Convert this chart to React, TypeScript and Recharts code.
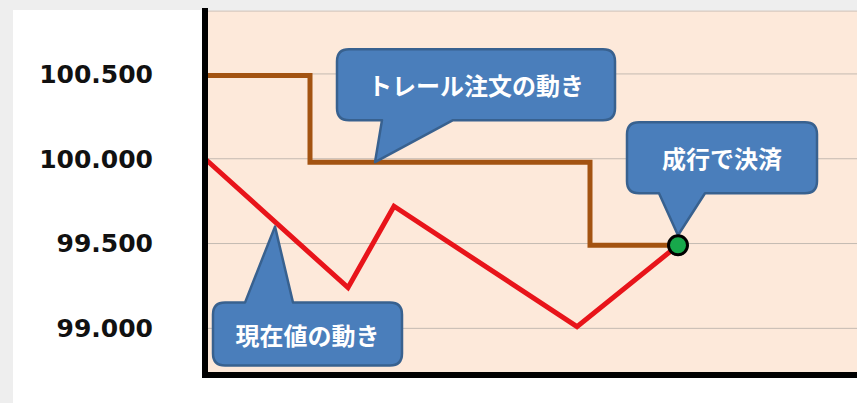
import React from 'react';
import { LineChart, Line, XAxis, YAxis, CartesianGrid, ReferenceDot } from 'recharts';

// Y axis ticks
const yTicks = [99.0, 99.5, 100.0, 100.5];

// Current price movement (red)
const priceTimes = [0, 14.3, 18.9, 37.2, 47.3];
const priceValues = [100.0, 99.24, 99.72, 99.01, 99.49];

// Trailing stop order movement (brown, step)
const trailTimes = [0, 10.5, 38.5, 47.3];
const trailValues = [100.49, 99.98, 99.49, 99.49];

// Settlement point
const settleTime = 47.3;
const settleValue = 99.49;

// Callout labels
const calloutTrail = 'トレール注文の動き';
const calloutSettle = '成行で決済';
const calloutPrice = '現在値の動き';

const priceData = priceTimes.map((x, i) => ({ x, y: priceValues[i] }));
const trailData = trailTimes.map((x, i) => ({ x, y: trailValues[i] }));

type Box = { l: number; r: number; t: number; b: number; b0: number; b1: number; tipDy: number; side: 'top' | 'bottom' };

function calloutPath(cx: number, cy: number, box: Box) {
  const x0 = cx + box.l, x1 = cx + box.r, y0 = cy + box.t, y1 = cy + box.b;
  const rr = 12;
  const bx0 = cx + box.b0, bx1 = cx + box.b1;
  const tx = cx, ty = cy + box.tipDy;
  if (box.side === 'bottom') {
    return `M${x0 + rr},${y0} H${x1 - rr} Q${x1},${y0} ${x1},${y0 + rr} V${y1 - rr} Q${x1},${y1} ${x1 - rr},${y1} H${bx1} L${tx},${ty} L${bx0},${y1} H${x0 + rr} Q${x0},${y1} ${x0},${y1 - rr} V${y0 + rr} Q${x0},${y0} ${x0 + rr},${y0} Z`;
  }
  return `M${x0 + rr},${y0} H${bx0} L${tx},${ty} L${bx1},${y0} H${x1 - rr} Q${x1},${y0} ${x1},${y0 + rr} V${y1 - rr} Q${x1},${y1} ${x1 - rr},${y1} H${x0 + rr} Q${x0},${y1} ${x0},${y1 - rr} V${y0 + rr} Q${x0},${y0} ${x0 + rr},${y0} Z`;
}

function makeCallout(text: string, box: Box) {
  return (props: any) => {
    const { cx, cy } = props;
    if (cx == null || cy == null) return <g />;
    const mx = cx + (box.l + box.r) / 2;
    const my = cy + (box.t + box.b) / 2;
    return (
      <g>
        <path d={calloutPath(cx, cy, box)} fill="#4A7EBB" stroke="#38618F" strokeWidth={2.5} strokeLinejoin="round" />
        <text
          x={mx}
          y={my}
          textAnchor="middle"
          dominantBaseline="central"
          fill="#FFFFFF"
          fontSize={24}
          fontWeight="bold"
          fontFamily="'Noto Sans CJK JP', sans-serif"
        >
          {text}
        </text>
      </g>
    );
  };
}

const trailBox: Box = { l: -38, r: 240, t: -113, b: -42, b0: 7, b1: 78, tipDy: 0, side: 'bottom' };
const settleBox: Box = { l: -51, r: 139, t: -123, b: -52, b0: -19, b1: 27, tipDy: -10, side: 'bottom' };
const priceBox: Box = { l: -62, r: 127, t: 76, b: 139, b0: -30, b1: 18, tipDy: 0, side: 'top' };

export default function App() {
  return (
    <div style={{ position: 'absolute', left: 0, top: 0, width: 857, height: 403, background: '#EEEEEE', overflow: 'hidden' }}>
      <div style={{ position: 'absolute', left: 13, top: 10, width: 844, height: 393, background: '#FFFFFF' }} />
      <div style={{ position: 'absolute', left: 0, top: 0 }}>
        <LineChart width={857} height={403} margin={{ top: 11, right: 0, bottom: 0, left: 0 }}>
          <CartesianGrid vertical={false} stroke="#C4BAB2" strokeWidth={1} fill="#FDE9DA" />
          <XAxis
            type="number"
            dataKey="x"
            domain={[0, 65.2]}
            allowDataOverflow
            height={28}
            tick={false}
            tickLine={false}
            axisLine={{ stroke: '#000000', strokeWidth: 6, strokeLinecap: 'square' }}
          />
          <YAxis
            type="number"
            dataKey="y"
            domain={[98.725, 100.871]}
            allowDataOverflow
            ticks={yTicks}
            width={205}
            tickLine={false}
            tickMargin={46}
            tickFormatter={(v: number) => v.toFixed(3)}
            tick={{ fill: '#111111', fontSize: 25, fontWeight: 'bold', fontFamily: "'DejaVu Sans', sans-serif" }}
            axisLine={{ stroke: '#000000', strokeWidth: 6, strokeLinecap: 'square' }}
          />
          <Line
            data={trailData}
            dataKey="y"
            type="stepAfter"
            stroke="#A35311"
            strokeWidth={5}
            dot={false}
            activeDot={false}
            isAnimationActive={false}
          />
          <Line
            data={priceData}
            dataKey="y"
            type="linear"
            stroke="#E8141A"
            strokeWidth={5}
            dot={false}
            activeDot={false}
            isAnimationActive={false}
          />
          <ReferenceDot x={17} y={99.98} r={0} ifOverflow="visible" shape={makeCallout(calloutTrail, trailBox)} />
          <ReferenceDot x={7} y={99.6} r={0} ifOverflow="visible" shape={makeCallout(calloutPrice, priceBox)} />
          <ReferenceDot x={settleTime} y={settleValue} r={0} ifOverflow="visible" shape={makeCallout(calloutSettle, settleBox)} />
          <ReferenceDot x={settleTime} y={settleValue} r={9.5} fill="#17A84B" stroke="#000000" strokeWidth={3} ifOverflow="visible" />
        </LineChart>
      </div>
    </div>
  );
}
